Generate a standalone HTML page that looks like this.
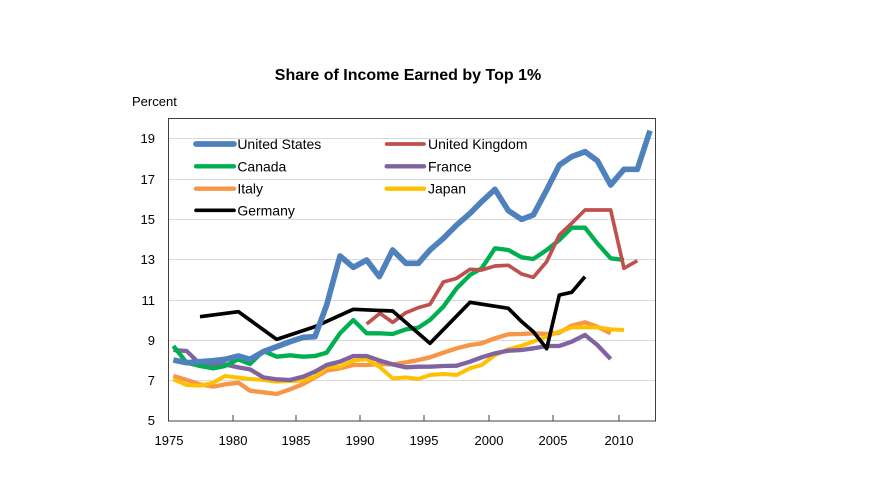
<!DOCTYPE html>
<html><head><meta charset="utf-8"><style>
html,body{margin:0;padding:0;background:#fff;}
svg{display:block;font-family:"Liberation Sans",sans-serif;}
</style></head><body>
<svg width="880" height="495" viewBox="0 0 880 495">
<rect width="880" height="495" fill="#fff"/>
<text x="408" y="80" text-anchor="middle" font-size="16" font-weight="bold" fill="#000">Share of Income Earned by Top 1%</text>
<text x="132" y="106" font-size="13" fill="#000">Percent</text>
<g stroke="#d9d9d9" stroke-width="1">
<line x1="168" x2="655" y1="138.5" y2="138.5"/><line x1="168" x2="655" y1="179.5" y2="179.5"/>
<line x1="168" x2="655" y1="219.5" y2="219.5"/><line x1="168" x2="655" y1="259.5" y2="259.5"/>
<line x1="168" x2="655" y1="300.5" y2="300.5"/><line x1="168" x2="655" y1="340.5" y2="340.5"/>
<line x1="168" x2="655" y1="380.5" y2="380.5"/>
</g>
<rect x="168.5" y="118.5" width="487" height="302.5" fill="none" stroke="#404040" stroke-width="1"/>
<g stroke="#404040"><line x1="233" x2="233" y1="415" y2="421"/><line x1="296" x2="296" y1="415" y2="421"/><line x1="360" x2="360" y1="415" y2="421"/><line x1="424" x2="424" y1="415" y2="421"/><line x1="489" x2="489" y1="415" y2="421"/><line x1="553" x2="553" y1="415" y2="421"/><line x1="619" x2="619" y1="415" y2="421"/></g>
<g font-size="13" text-anchor="end" fill="#000">
<text x="155" y="143">19</text><text x="155" y="184">17</text><text x="155" y="224">15</text><text x="155" y="264">13</text><text x="155" y="305">11</text><text x="155" y="345">9</text><text x="155" y="385">7</text><text x="155" y="425">5</text>
</g>
<g font-size="13" text-anchor="middle" fill="#000">
<text x="169" y="445">1975</text><text x="233" y="445">1980</text><text x="296" y="445">1985</text><text x="360" y="445">1990</text><text x="424" y="445">1995</text><text x="489" y="445">2000</text><text x="553" y="445">2005</text><text x="619" y="445">2010</text>
</g>
<g transform="translate(160,120) scale(0.33333)" fill="none" stroke-width="13" stroke-linejoin="round">
<polyline stroke="#f79646" points="40,768 80,780 120,793 160,800 195,793 235,788 270,812 310,817 350,822 390,808 430,792 465,772 500,752 540,745 580,735 620,735 660,732 698,733 738,727 775,720 810,712 850,698 890,685 930,675 965,670 1005,655 1045,643 1085,642 1120,640 1160,642 1198,638 1235,617 1275,607 1312,620 1352,640"/>
<polyline stroke="#ffc000" stroke-width="12" points="40,778 80,795 120,797 160,788 195,768 235,773 270,777 310,780 350,785 390,783 430,782 465,770 500,742 540,740 580,722 620,717 660,742 698,775 738,772 775,777 810,765 850,762 890,765 930,745 965,735 1005,705 1045,688 1085,677 1120,665 1160,650 1198,635 1235,622 1275,622 1312,622 1352,628 1392,630"/>
<polyline stroke="#8064a2" points="40,690 80,693 120,732 160,733 195,733 235,742 270,748 310,772 350,778 390,780 430,770 465,755 500,735 540,725 580,708 620,708 660,722 698,733 738,742 775,740 810,740 850,738 890,737 930,725 965,712 1005,700 1045,692 1085,690 1120,685 1160,678 1198,678 1235,665 1275,645 1312,675 1352,717"/>
<polyline stroke="#00b050" points="40,678 80,728 120,738 160,745 195,738 235,718 270,732 310,693 350,710 390,706 430,710 465,708 500,698 540,640 580,600 620,640 660,640 698,642 738,628 775,623 810,600 850,560 890,505 930,465 965,445 1005,385 1045,390 1085,412 1120,417 1160,390 1198,360 1235,323 1275,323 1312,370 1352,415 1392,420"/>
<polyline stroke="#c0504d" stroke-width="11" points="620,612 660,580 698,607 738,578 775,563 810,553 850,486 890,475 930,448 965,450 1005,438 1045,436 1085,462 1120,472 1160,425 1198,345 1235,310 1275,270 1312,270 1352,270 1392,445 1432,422"/>
<polyline stroke="#000" stroke-width="11" points="120,590 235,575 350,658 465,620 580,568 698,573 810,670 930,547 1045,565 1085,605 1120,635 1160,686 1198,525 1235,517 1275,470"/>
<polyline stroke="#4f81bd" stroke-width="17" points="40,720 80,728 120,725 160,722 195,718 235,708 270,718 310,695 350,680 390,665 430,652 465,650 500,555 540,408 580,442 620,420 658,470 698,390 738,430 775,430 810,390 850,355 890,315 930,280 965,245 1005,208 1045,272 1085,298 1120,285 1160,210 1198,135 1235,110 1275,95 1312,122 1352,195 1392,148 1432,148 1470,32"/>
<g stroke-linecap="round">
<line x1="108" x2="222" y1="72" y2="72" stroke="#4f81bd" stroke-width="17"/>
<line x1="680" x2="792" y1="72" y2="72" stroke="#c0504d" stroke-width="11"/>
<line x1="108" x2="222" y1="139" y2="139" stroke="#00b050"/>
<line x1="680" x2="792" y1="139" y2="139" stroke="#8064a2"/>
<line x1="108" x2="222" y1="206" y2="206" stroke="#f79646"/>
<line x1="680" x2="792" y1="206" y2="206" stroke="#ffc000"/>
<line x1="108" x2="222" y1="271" y2="271" stroke="#000" stroke-width="11"/>
</g>
<g font-size="42" fill="#000" stroke="none">
<text x="232" y="87">United States</text><text x="804" y="87">United Kingdom</text>
<text x="232" y="154">Canada</text><text x="804" y="154">France</text>
<text x="232" y="220">Italy</text><text x="804" y="220">Japan</text>
<text x="232" y="286">Germany</text>
</g>
</g>
</svg>
</body></html>
